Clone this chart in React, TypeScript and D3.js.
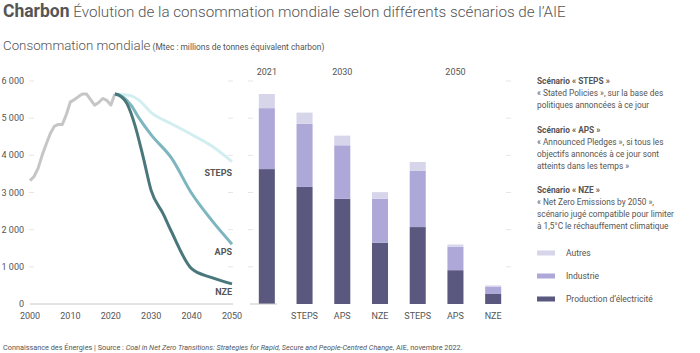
import React, { useEffect, useRef } from "react";
import * as d3 from "d3";

// historical consumption (Mtec)
const histYears = [2000, 2001, 2002, 2003, 2004, 2005, 2006, 2007, 2008, 2009, 2010, 2011, 2012, 2013, 2014, 2015, 2016, 2017, 2018, 2019, 2020, 2021];
const histValues = [3320, 3430, 3650, 4000, 4300, 4580, 4780, 4830, 4830, 5100, 5440, 5500, 5580, 5650, 5650, 5500, 5350, 5420, 5530, 5480, 5350, 5650];

const stepsYears = [2021, 2025, 2027, 2030, 2035, 2040, 2045, 2050];
const stepsValues = [5650, 5600, 5480, 5150, 4850, 4560, 4250, 3830];
const apsYears = [2021, 2023, 2025, 2027, 2030, 2035, 2040, 2045, 2050];
const apsValues = [5650, 5570, 5350, 5000, 4550, 3930, 2980, 2250, 1610];
const nzeYears = [2021, 2022, 2024, 2026, 2028, 2030, 2033, 2035, 2040, 2045, 2050];
const nzeValues = [5650, 5620, 5390, 4800, 3960, 3050, 2420, 1950, 950, 710, 540];

const yTicks = [0, 1000, 2000, 3000, 4000, 5000, 6000];
const xTicks = [2000, 2010, 2020, 2030, 2040, 2050];

// stacked bars
const barIds = ["2021", "STEPS30", "APS30", "NZE30", "STEPS50", "APS50", "NZE50"];
const barLabels = ["", "STEPS", "APS", "NZE", "STEPS", "APS", "NZE"];
const electricite = [3630, 3150, 2830, 1650, 2070, 910, 270];
const industrie = [1640, 1700, 1440, 1180, 1510, 630, 200];
const autres = [380, 300, 260, 180, 240, 60, 30];
const groupLabels = ["2021", "2030", "2050"];
const groupBars = [[0], [1, 2, 3], [5]];

const legendItems = ["Autres", "Industrie", "Production d’électricité"];
const legendColors = ["#d7d5ea", "#ada8d8", "#5a587e"];

const scenarioText = [
  ["Scénario « STEPS »", "« Stated Policies », sur la base des", "politiques annoncées à ce jour"],
  ["Scénario « APS »", "« Announced Pledges », si tous les", "objectifs annoncés à ce jour sont", "atteints dans les temps »"],
  ["Scénario « NZE »", "« Net Zero Emissions by 2050 »,", "scénario jugé compatible pour limiter", "à 1,5°C le réchauffement climatique"],
];

const textColor = "#555";
const font = "Roboto, 'Noto Sans', sans-serif";

export default function App() {
  const ref = useRef<SVGSVGElement>(null);

  useEffect(() => {
    const svg = d3.select(ref.current);
    svg.selectAll("*").remove();
    svg.style("font-family", font);

    // title
    const title = svg.append("text").attr("x", 3).attr("y", 17).attr("fill", textColor);
    title.append("tspan").attr("font-size", 17.5).attr("font-weight", "bold").text("Charbon");
    title.append("tspan").attr("font-size", 15.2).attr("font-weight", 300).text(" Évolution de la consommation mondiale selon différents scénarios de l’AIE");

    const sub = svg.append("text").attr("x", 3).attr("y", 50).attr("fill", textColor);
    sub.append("tspan").attr("font-size", 13.3).attr("font-weight", 300).text("Consommation mondiale");
    sub.append("tspan").attr("font-size", 8.4).text(" (Mtec : millions de tonnes équivalent charbon)");

    const y = d3.scaleLinear().domain([0, 6000]).range([304, 81]);
    const x = d3.scaleLinear().domain([2000, 2050]).range([30, 232]);

    // y labels
    svg.append("g").selectAll("text").data(yTicks).join("text")
      .attr("x", 24).attr("y", d => y(d)).attr("dy", "0.35em")
      .attr("text-anchor", "end").attr("font-size", 9).attr("fill", textColor)
      .text(d => d3.format(",")(d).replace(",", " "));

    // faint grid stubs
    const stubs = [[29, 34], [228, 233], [248, 253], [506, 511]];
    yTicks.filter(d => d > 0).forEach(t => {
      stubs.forEach(([a, b]) => {
        svg.append("line").attr("x1", a).attr("x2", b).attr("y1", y(t)).attr("y2", y(t))
          .attr("stroke", "#e6e6e6").attr("stroke-width", 1);
      });
    });

    // line chart baseline
    svg.append("line").attr("x1", 30).attr("x2", 233).attr("y1", y(0)).attr("y2", y(0))
      .attr("stroke", "#c8c8c8").attr("stroke-width", 1);

    svg.append("g").selectAll("text").data(xTicks).join("text")
      .attr("x", d => x(d)).attr("y", 319).attr("text-anchor", "middle")
      .attr("font-size", 9).attr("fill", textColor).text(d => d);

    const line = d3.line<[number, number]>().x(d => x(d[0])).y(d => y(d[1]));
    const smooth = d3.line<[number, number]>().x(d => x(d[0])).y(d => y(d[1])).curve(d3.curveMonotoneX);

    const pairs = (ys: number[], vs: number[]) => ys.map((yr, i) => [yr, vs[i]] as [number, number]);

    svg.append("path").attr("d", line(pairs(histYears, histValues)))
      .attr("fill", "none").attr("stroke", "#c6c6c6").attr("stroke-width", 3).attr("stroke-linejoin", "round");
    svg.append("path").attr("d", smooth(pairs(stepsYears, stepsValues)))
      .attr("fill", "none").attr("stroke", "#d3eef1").attr("stroke-width", 3);
    svg.append("path").attr("d", smooth(pairs(apsYears, apsValues)))
      .attr("fill", "none").attr("stroke", "#7db6bf").attr("stroke-width", 3);
    svg.append("path").attr("d", smooth(pairs(nzeYears, nzeValues)))
      .attr("fill", "none").attr("stroke", "#4a777b").attr("stroke-width", 3);

    const lineLabels = [["STEPS", 172.5], ["APS", 251.5], ["NZE", 292]];
    lineLabels.forEach(([t, yy]) => {
      svg.append("text").attr("x", 232).attr("y", yy as number).attr("dy", "0.35em")
        .attr("text-anchor", "end").attr("font-size", 9).attr("font-weight", "bold")
        .attr("fill", textColor).text(t as string);
    });

    // stacked bars
    const xb = d3.scaleBand().domain(barIds).range([249, 511]).paddingInner(0.575).paddingOuter(0.26);
    const rows = barIds.map((id, i) => ({ id, electricite: electricite[i], industrie: industrie[i], autres: autres[i] }));
    const stack = d3.stack<any>().keys(["electricite", "industrie", "autres"])(rows);

    svg.append("g").selectAll("g").data(stack).join("g")
      .attr("fill", (_, i) => legendColors[2 - i])
      .selectAll("rect").data(d => d).join("rect")
      .attr("x", d => xb(d.data.id)!)
      .attr("width", xb.bandwidth())
      .attr("y", d => y(d[1]))
      .attr("height", d => y(d[0]) - y(d[1]));

    svg.append("line").attr("x1", 250).attr("x2", 277).attr("y1", y(0)).attr("y2", y(0))
      .attr("stroke", "#c8c8c8").attr("stroke-width", 1);

    svg.append("g").selectAll("text").data(barIds).join("text")
      .attr("x", d => xb(d)! + xb.bandwidth() / 2).attr("y", 319)
      .attr("text-anchor", "middle").attr("font-size", 9).attr("fill", textColor)
      .text((_, i) => barLabels[i]);

    groupLabels.forEach((g, i) => {
      const idx = groupBars[i];
      const cx = d3.mean(idx, k => xb(barIds[k])! + xb.bandwidth() / 2)!;
      svg.append("text").attr("x", cx).attr("y", 75).attr("text-anchor", "middle")
        .attr("font-size", 9).attr("fill", textColor).text(g);
    });

    // scenario notes
    const blockTops = [84, 133, 193];
    scenarioText.forEach((lines, b) => {
      lines.forEach((t, j) => {
        svg.append("text").attr("x", 537).attr("y", blockTops[b] + j * 12)
          .attr("font-size", 8.3).attr("font-weight", j === 0 ? "bold" : "normal")
          .attr("fill", textColor).text(t);
      });
    });

    // legend
    const legendY = [253, 276, 299];
    legendItems.forEach((t, i) => {
      svg.append("rect").attr("x", 537).attr("y", legendY[i] - 2.5).attr("width", 18).attr("height", 5)
        .attr("fill", legendColors[i]);
      svg.append("text").attr("x", 566).attr("y", legendY[i]).attr("dy", "0.35em")
        .attr("font-size", 8.5).attr("fill", textColor).text(t);
    });

    // footer
    const foot = svg.append("text").attr("x", 3).attr("y", 350).attr("font-size", 7.3).attr("fill", textColor);
    foot.append("tspan").text("Connaissance des Énergies | Source : ");
    foot.append("tspan").attr("font-style", "italic").text("Coal in Net Zero Transitions: Strategies for Rapid, Secure and People-Centred Change");
    foot.append("tspan").text(", AIE, novembre 2022.");
  }, []);

  return (
    <svg ref={ref} width={700} height={353} style={{ position: "absolute", left: 0, top: 0, background: "#fff" }} />
  );
}
